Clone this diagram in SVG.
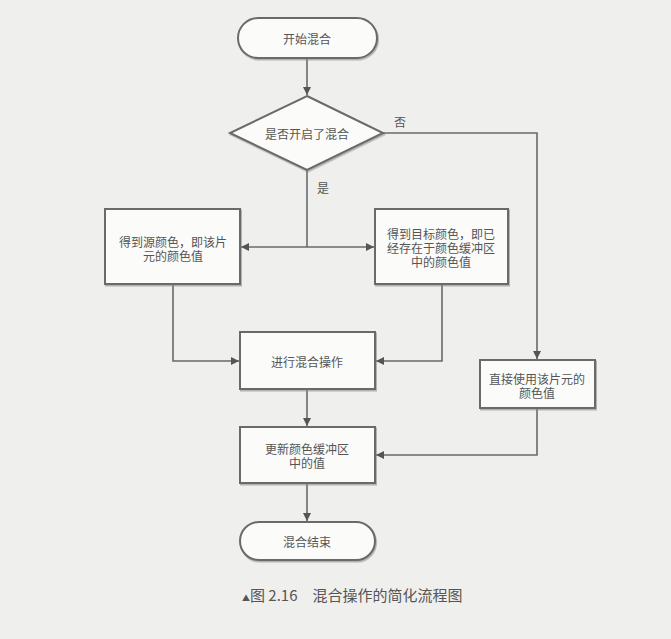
<svg xmlns="http://www.w3.org/2000/svg" width="671" height="639" viewBox="0 0 671 639">
<defs>
<style>
.n{fill:#fbfbfa;stroke:#6a6a6a;stroke-width:2}
.t{font-family:"Noto Sans CJK SC","Noto Sans",sans-serif;font-size:12px;fill:#555;text-anchor:middle;dominant-baseline:central}
.c{fill:none;stroke:#6a6a6a;stroke-width:1.6}
</style>
<marker id="a" viewBox="0 0 10 10" refX="10" refY="5" markerWidth="8" markerHeight="8" markerUnits="userSpaceOnUse" orient="auto"><path d="M0,0L10,5L0,10z" fill="#555"/></marker>
<filter id="s" x="-10%" y="-10%" width="130%" height="130%"><feDropShadow dx="1" dy="1.5" stdDeviation="0.6" flood-color="#888" flood-opacity="0.6"/></filter>
</defs>
<rect width="671" height="639" fill="#efefed"/>
<g id="connectors">
<path class="c" d="M307,58V95" marker-end="url(#a)"/>
<path class="c" d="M383,133H537V359" marker-end="url(#a)"/>
<path class="c" d="M307,170V247"/>
<path class="c" d="M307,247H241" marker-end="url(#a)"/>
<path class="c" d="M307,247H374" marker-end="url(#a)"/>
<path class="c" d="M173,284V361H239" marker-end="url(#a)"/>
<path class="c" d="M442,284V361H376" marker-end="url(#a)"/>
<path class="c" d="M307,389V426" marker-end="url(#a)"/>
<path class="c" d="M537,408V455H376" marker-end="url(#a)"/>
<path class="c" d="M307,483V521" marker-end="url(#a)"/>
</g>
<g id="start"><rect class="n" filter="url(#s)" x="238" y="18" width="139" height="40" rx="20"/><text class="t" x="307" y="38">开始混合</text></g>
<g id="decision"><path class="n" filter="url(#s)" d="M307,96L383,133L307,170L230,133z"/><text class="t" x="307" y="133">是否开启了混合</text></g>
<g id="labels"><text class="t" x="400" y="121">否</text><text class="t" x="323" y="187">是</text></g>
<g id="src"><rect class="n" filter="url(#s)" x="105" y="209" width="135" height="75"/><text class="t" x="173" y="241">得到源颜色，即该片</text><text class="t" x="173" y="255">元的颜色值</text></g>
<g id="dst"><rect class="n" filter="url(#s)" x="375" y="209" width="133" height="75"/><text class="t" x="441" y="233">得到目标颜色，即已</text><text class="t" x="441" y="247">经存在于颜色缓冲区</text><text class="t" x="441" y="261">中的颜色值</text></g>
<g id="blend"><rect class="n" filter="url(#s)" x="240" y="332" width="135" height="57"/><text class="t" x="307" y="361">进行混合操作</text></g>
<g id="direct"><rect class="n" filter="url(#s)" x="480" y="360" width="115" height="48"/><text class="t" x="537" y="378">直接使用该片元的</text><text class="t" x="537" y="392">颜色值</text></g>
<g id="update"><rect class="n" filter="url(#s)" x="240" y="427" width="135" height="56"/><text class="t" x="307" y="448">更新颜色缓冲区</text><text class="t" x="307" y="462">中的值</text></g>
<g id="end"><rect class="n" filter="url(#s)" x="240" y="522" width="135" height="38" rx="19"/><text class="t" x="307" y="541">混合结束</text></g>
<g id="caption"><text x="242" y="601" style="font-family:'Noto Sans CJK SC','Noto Sans',sans-serif;font-size:15px;fill:#555"><tspan font-size="8">▲</tspan>图 2.16　混合操作的简化流程图</text></g>
</svg>
